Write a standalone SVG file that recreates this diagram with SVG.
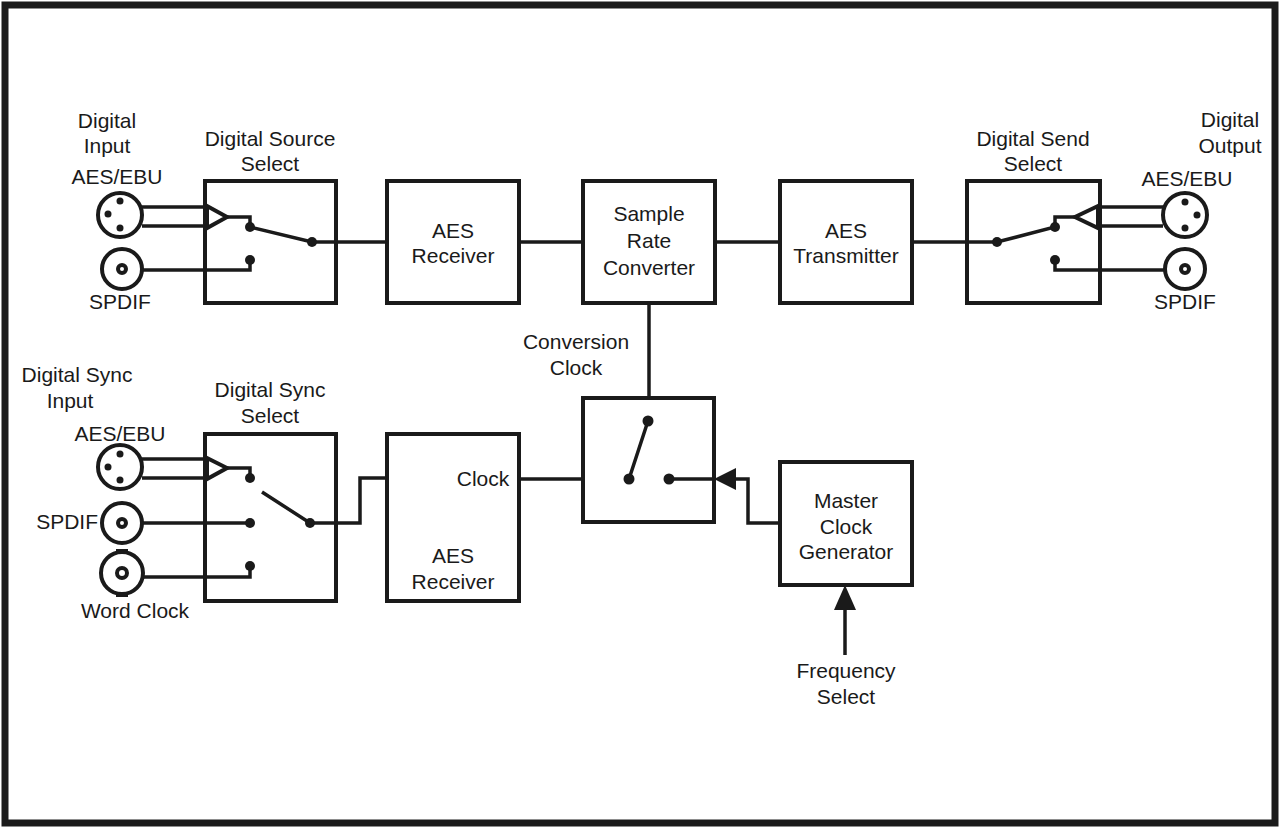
<svg xmlns="http://www.w3.org/2000/svg" width="1281" height="829" viewBox="0 0 1281 829">
<style>
.b{fill:#fff;stroke:#1a1a1a;stroke-width:4}
.l{fill:none;stroke:#1a1a1a;stroke-width:3.5;stroke-linejoin:miter}
.d{fill:#1a1a1a}
.c{fill:#fff;stroke:#1a1a1a;stroke-width:4}
text{font-family:"Liberation Sans",Arial,sans-serif;font-size:21px;fill:#1a1a1a;text-anchor:middle}
</style>
<rect x="0" y="0" width="1281" height="829" fill="#fff"/>
<rect x="5" y="5" width="1270" height="818" fill="none" stroke="#1a1a1a" stroke-width="7"/>
<g id="connectors">
<path class="l" d="M336 242H387M519 242H583M715 242H780M912 242H967"/>
<path class="l" d="M649 303V421"/>
<path class="l" d="M336 523H360V478H387M519 479H629"/>
<path class="l" d="M735 479H748V523H780"/>
<path class="l" d="M845 655V605"/>
<polygon class="d" points="845,585 834,610 856,610"/>
<polygon class="d" points="714,479 736,468 736,490"/>
</g>
<g id="input-aes">
<circle class="c" cx="120" cy="215" r="22"/>
<circle class="d" cx="120" cy="201" r="3.5"/><circle class="d" cx="108" cy="214" r="3.5"/><circle class="d" cx="120" cy="228" r="3.5"/>
<path class="l" d="M142 207H207M142 226H207"/>
</g>
<g id="input-spdif"><circle class="c" cx="122" cy="269" r="20"/><circle class="c" cx="122" cy="269" r="4" stroke-width="2.5"/></g>
<g id="source-select">
<rect class="b" x="205" y="181" width="131" height="122"/>
<polygon class="c" points="207,206 227,217 207,228" stroke-width="3"/>
<path class="l" d="M227 217H250V227M250 227L312 242H336M142 270H250V260"/>
<circle class="d" cx="250" cy="227" r="5"/><circle class="d" cx="312" cy="242" r="5"/><circle class="d" cx="250" cy="260" r="5"/>
<text x="270" y="146">Digital Source</text><text x="270" y="171">Select</text>
</g>
<g id="aes-receiver"><rect class="b" x="387" y="181" width="132" height="122"/><text x="453" y="238">AES</text><text x="453" y="263">Receiver</text></g>
<g id="src"><rect class="b" x="583" y="181" width="132" height="122"/><text x="649" y="221">Sample</text><text x="649" y="248">Rate</text><text x="649" y="275">Converter</text></g>
<g id="aes-transmitter"><rect class="b" x="780" y="181" width="132" height="122"/><text x="846" y="238">AES</text><text x="846" y="263">Transmitter</text></g>
<g id="send-select">
<rect class="b" x="967" y="181" width="133" height="122"/>
<path class="l" d="M967 242H997L1055 227V217H1075M1055 260V270H1165M1098 207H1163M1098 226H1163"/>
<polygon class="c" points="1098,206 1075,217 1098,228" stroke-width="3"/>
<circle class="d" cx="997" cy="242" r="5"/><circle class="d" cx="1055" cy="227" r="5"/><circle class="d" cx="1055" cy="260" r="5"/>
<text x="1033" y="146">Digital Send</text><text x="1033" y="171">Select</text>
</g>
<g id="output-aes"><circle class="c" cx="1185" cy="215" r="22"/><circle class="d" cx="1185" cy="202" r="3.5"/><circle class="d" cx="1197" cy="215" r="3.5"/><circle class="d" cx="1185" cy="228" r="3.5"/></g>
<g id="output-spdif"><circle class="c" cx="1185" cy="269" r="20"/><circle class="c" cx="1185" cy="269" r="4" stroke-width="2.5"/></g>
<g id="sync-inputs">
<circle class="c" cx="120" cy="467" r="22"/>
<circle class="d" cx="120" cy="454" r="3.5"/><circle class="d" cx="108" cy="467" r="3.5"/><circle class="d" cx="120" cy="480" r="3.5"/>
<path class="l" d="M142 459H207M142 478H207"/>
<circle class="c" cx="122" cy="523" r="20"/><circle class="c" cx="122" cy="523" r="4" stroke-width="2.5"/>
<rect class="d" x="116" y="549" width="12" height="5"/><rect class="d" x="116" y="592" width="12" height="5"/>
<circle class="c" cx="122" cy="573" r="21"/><circle class="c" cx="122" cy="573" r="5" stroke-width="2.5"/>
</g>
<g id="sync-select">
<rect class="b" x="205" y="434" width="131" height="167"/>
<polygon class="c" points="207,458 227,468 207,479" stroke-width="3"/>
<path class="l" d="M227 468H250V478M262 492L310 523H336M142 523H250M143 577H250V566"/>
<circle class="d" cx="250" cy="478" r="5"/><circle class="d" cx="310" cy="523" r="5"/><circle class="d" cx="250" cy="523" r="5"/><circle class="d" cx="250" cy="566" r="5"/>
<text x="270" y="397">Digital Sync</text><text x="270" y="423">Select</text>
</g>
<g id="aes-receiver-2"><rect class="b" x="387" y="434" width="132" height="167"/><text x="483" y="486">Clock</text><text x="453" y="563">AES</text><text x="453" y="589">Receiver</text></g>
<g id="clock-switch">
<rect class="b" x="583" y="398" width="131" height="124"/>
<path class="l" d="M629 479L648 421M669 479H714"/>
<circle class="d" cx="629" cy="479" r="5.5"/><circle class="d" cx="648" cy="421" r="5.5"/><circle class="d" cx="669" cy="479" r="5.5"/>
</g>
<g id="master-clock"><rect class="b" x="780" y="462" width="132" height="123"/><text x="846" y="508">Master</text><text x="846" y="534">Clock</text><text x="846" y="559">Generator</text></g>
<g id="labels">
<text x="107" y="128">Digital</text><text x="107" y="153">Input</text><text x="117" y="184">AES/EBU</text>
<text x="120" y="309">SPDIF</text>
<text x="1230" y="127">Digital</text><text x="1230" y="153">Output</text><text x="1187" y="186">AES/EBU</text>
<text x="1185" y="309">SPDIF</text>
<text x="576" y="349">Conversion</text><text x="576" y="375">Clock</text>
<text x="77" y="382">Digital Sync</text><text x="70" y="408">Input</text><text x="120" y="441">AES/EBU</text>
<text x="98" y="529" style="text-anchor:end">SPDIF</text>
<text x="135" y="618">Word Clock</text>
<text x="846" y="678">Frequency</text><text x="846" y="704">Select</text>
</g>
</svg>
